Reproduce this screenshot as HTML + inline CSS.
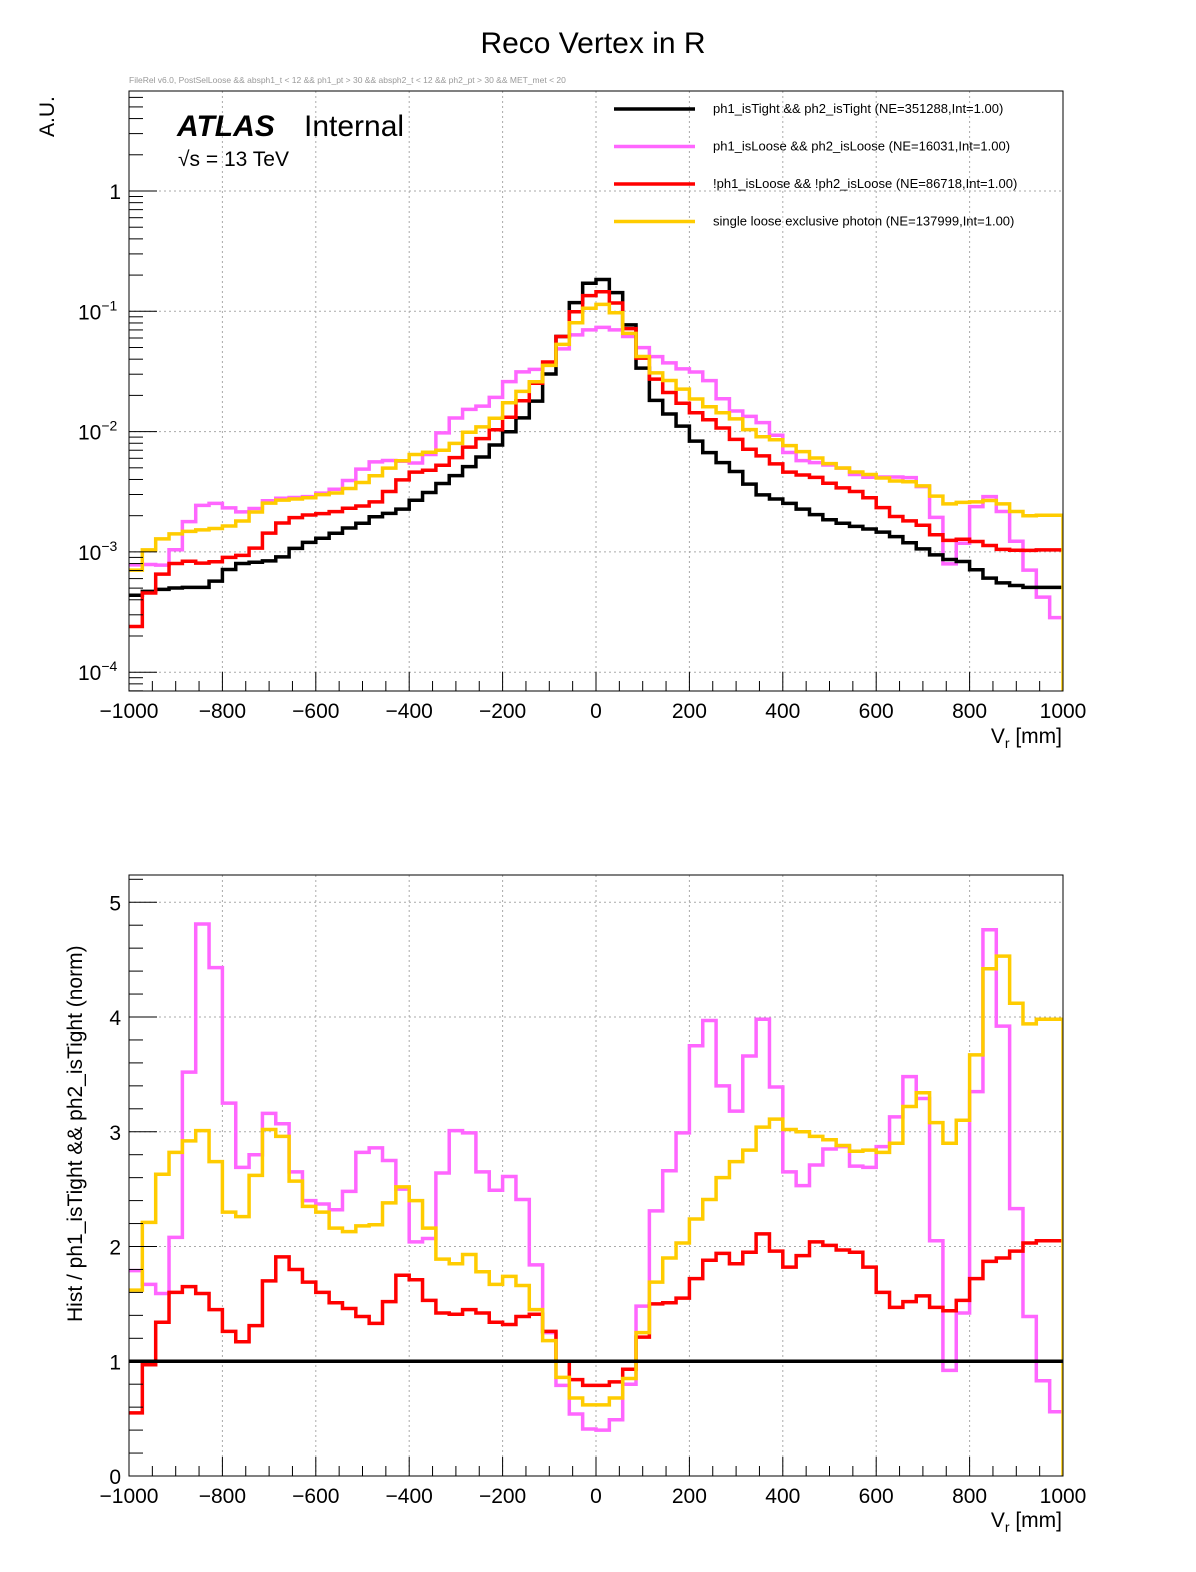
<!DOCTYPE html>
<html><head><meta charset="utf-8"><style>
html,body{margin:0;padding:0;background:#fff;overflow:hidden;width:1196px;height:1572px}
svg{display:block}
svg text{font-family:"Liberation Sans",sans-serif}
</style></head><body>
<svg id="chart" width="1196" height="1572" viewBox="0 0 1196 1572" xmlns="http://www.w3.org/2000/svg">
<defs>
<clipPath id="clipTop"><rect x="129" y="91" width="934" height="600"/></clipPath>
<clipPath id="clipBot"><rect x="129" y="875" width="934" height="601"/></clipPath>
</defs>
<rect width="1196" height="1572" fill="#fff"/>
<text x="593" y="53" font-size="30" text-anchor="middle">Reco Vertex in R</text>
<text x="129" y="83" font-size="8.5" fill="#999">FileRel v6.0, PostSelLoose &amp;&amp; absph1_t &lt; 12 &amp;&amp; ph1_pt &gt; 30 &amp;&amp; absph2_t &lt; 12 &amp;&amp; ph2_pt &gt; 30 &amp;&amp; MET_met &lt; 20</text>
<g id="gridTop"></g>
<g id="gridBot"></g>
<g id="seriesTop" clip-path="url(#clipTop)"></g>
<g id="seriesBot" clip-path="url(#clipBot)"></g>
<rect x="129" y="91" width="934" height="600" fill="none" stroke="#000" stroke-width="1"/>
<rect x="129" y="875" width="934" height="601" fill="none" stroke="#000" stroke-width="1"/>
<g id="axes"></g>
<text transform="translate(54,137) rotate(-90)" font-size="21">A.U.</text>
<text x="1062" y="743" font-size="21" text-anchor="end">V<tspan font-size="14" dy="5">r</tspan><tspan dy="-5"> [mm]</tspan></text>
<text x="1062" y="1527" font-size="21" text-anchor="end">V<tspan font-size="14" dy="5">r</tspan><tspan dy="-5"> [mm]</tspan></text>
<text transform="translate(82,1322) rotate(-90)" font-size="21">Hist / ph1_isTight &amp;&amp; ph2_isTight (norm)</text>
<text x="177" y="136" font-size="30" font-weight="bold" font-style="italic">ATLAS</text>
<text x="304" y="136" font-size="30">Internal</text>
<text x="178" y="166" font-size="21">√s = 13 TeV</text>
<g id="legend"></g>
</svg>
<script>
const binLo = -1000, binHi = 1000, nBins = 70;
const blackVals = [4.36e-4,4.70e-4,4.88e-4,5.01e-4,5.07e-4,5.07e-4,5.71e-4,7.14e-4,8.00e-4,8.20e-4,
8.43e-4,9.10e-4,1.07e-3,1.20e-3,1.30e-3,1.43e-3,1.58e-3,1.73e-3,1.96e-3,2.09e-3,
2.27e-3,2.69e-3,3.12e-3,3.70e-3,4.31e-3,5.12e-3,6.15e-3,7.73e-3,9.98e-3,1.30e-2,
1.79e-2,3.01e-2,6.17e-2,0.118,0.171,0.184,0.143,0.0771,0.0337,0.0182,
0.0140,0.0111,8.34e-3,6.68e-3,5.52e-3,4.66e-3,3.66e-3,2.98e-3,2.75e-3,2.53e-3,
2.27e-3,2.04e-3,1.85e-3,1.73e-3,1.63e-3,1.55e-3,1.46e-3,1.34e-3,1.19e-3,1.06e-3,
9.44e-4,8.65e-4,8.32e-4,7.10e-4,6.05e-4,5.53e-4,5.26e-4,5.07e-4,5.07e-4,5.07e-4];
const pinkRatio = [1.79,1.67,1.59,2.08,3.52,4.81,4.43,3.25,2.69,2.80,
3.16,3.07,2.65,2.40,2.37,2.32,2.48,2.82,2.86,2.75,
2.50,2.04,2.07,2.64,3.01,2.99,2.65,2.49,2.61,2.41,
1.84,1.25,0.79,0.54,0.41,0.40,0.49,0.80,1.48,2.31,
2.66,2.99,3.75,3.97,3.40,3.18,3.66,3.98,3.39,2.65,
2.53,2.71,2.85,2.87,2.70,2.69,2.87,3.13,3.48,3.29,
2.05,0.92,1.42,3.35,4.76,3.92,2.33,1.39,0.83,0.56];
const redRatio = [0.55,0.97,1.34,1.60,1.65,1.59,1.45,1.26,1.17,1.31,
1.70,1.91,1.80,1.69,1.60,1.51,1.46,1.39,1.33,1.52,
1.75,1.71,1.53,1.42,1.41,1.45,1.42,1.34,1.32,1.39,
1.41,1.26,1.00,0.84,0.79,0.79,0.82,0.93,1.21,1.50,
1.51,1.55,1.72,1.88,1.94,1.85,1.95,2.11,1.96,1.82,
1.92,2.04,2.01,1.97,1.95,1.82,1.60,1.47,1.52,1.57,
1.47,1.44,1.53,1.72,1.87,1.90,1.96,2.03,2.05,2.05];
const yellowRatio = [1.62,2.21,2.63,2.82,2.92,3.01,2.74,2.30,2.26,2.62,
3.02,2.96,2.57,2.35,2.30,2.16,2.13,2.18,2.19,2.38,
2.52,2.40,2.16,1.89,1.85,1.93,1.78,1.67,1.74,1.66,
1.45,1.18,0.86,0.68,0.62,0.62,0.68,0.85,1.25,1.69,
1.90,2.03,2.24,2.41,2.60,2.74,2.84,3.04,3.11,3.02,
3.00,2.96,2.93,2.88,2.83,2.84,2.82,2.90,3.22,3.34,
3.08,2.90,3.10,3.67,4.42,4.53,4.12,3.94,3.98,3.98];
const xTicks = [-1000,-800,-600,-400,-200,0,200,400,600,800,1000];
const xTickLabels = ["\u22121000","\u2212800","\u2212600","\u2212400","\u2212200","0","200","400","600","800","1000"];
const topDecades = [0,-1,-2,-3,-4];
const botTicks = [0,1,2,3,4,5];
const legendLabels = ["ph1_isTight && ph2_isTight (NE=351288,Int=1.00)","ph1_isLoose && ph2_isLoose (NE=16031,Int=1.00)","!ph1_isLoose && !ph2_isLoose (NE=86718,Int=1.00)","single loose exclusive photon (NE=137999,Int=1.00)"];

const NS = "http://www.w3.org/2000/svg";
const X0 = 129, X1 = 1063;
function xs(v){ return X0 + (v - binLo) / (binHi - binLo) * (X1 - X0); }
function yTop(v){ return 191 - 120.3 * Math.log10(v); }
function yBot(r){ return 1476 - 114.75 * r; }
function mk(tag, attrs, parent){ const e = document.createElementNS(NS, tag); for (const k in attrs) e.setAttribute(k, attrs[k]); parent.appendChild(e); return e; }
const bw = (binHi - binLo) / nBins;

function stepPath(vals, yf, drop, bottomY){
  let d = "";
  for (let i = 0; i < vals.length; i++){
    const x0 = xs(binLo + i*bw), x1 = xs(binLo + (i+1)*bw), y = yf(vals[i]);
    d += (i === 0 ? "M" + x0 + " " + y : " V" + y) + " H" + x1;
  }
  if (drop) d += " V" + bottomY;
  return d;
}

const gT = document.getElementById('gridTop'), gB = document.getElementById('gridBot');
xTicks.forEach(v => {
  if (v === binLo || v === binHi) return;
  const l1 = mk('line', {x1: xs(v), x2: xs(v), y1: 91, y2: 691, stroke: '#aaa', 'stroke-dasharray': '2,3'}, gT);
  
  
  const l2 = mk('line', {x1: xs(v), x2: xs(v), y1: 875, y2: 1476, stroke: '#aaa', 'stroke-dasharray': '2,3'}, gB);
  
  
});
topDecades.forEach(p => {
  const l = mk('line', {x1: X0, x2: X1, y1: yTop(Math.pow(10,p)), y2: yTop(Math.pow(10,p)), stroke: '#aaa', 'stroke-dasharray': '2,3'}, gT);
  
  
});
botTicks.forEach(r => {
  if (r === 0) return;
  const l = mk('line', {x1: X0, x2: X1, y1: yBot(r), y2: yBot(r), stroke: '#aaa', 'stroke-dasharray': '2,3'}, gB);
  
  
});

const colors = {black: '#000', pink: '#ff66ff', red: '#ff0000', yellow: '#ffcc00'};
const sT = document.getElementById('seriesTop'), sB = document.getElementById('seriesBot');
const pinkVals = blackVals.map((b,i) => b * pinkRatio[i]);
const redVals = blackVals.map((b,i) => b * redRatio[i]);
const yellowVals = blackVals.map((b,i) => b * yellowRatio[i]);
const topSeries = [['pink', pinkVals], ['black', blackVals], ['red', redVals], ['yellow', yellowVals]];
topSeries.forEach(([c, vals]) => {
  const p = mk('path', {d: stepPath(vals, yTop, c === 'yellow', 691), fill: 'none', stroke: colors[c], 'stroke-width': 3.5}, sT);
  
  
});
const ones = blackVals.map(() => 1);
const botSeries = [['pink', pinkRatio], ['red', redRatio], ['yellow', yellowRatio], ['black', ones]];
botSeries.forEach(([c, vals]) => {
  const p = mk('path', {d: stepPath(vals, yBot, c === 'yellow', 1476), fill: 'none', stroke: colors[c], 'stroke-width': 3.5}, sB);
  
  
});

const ax = document.getElementById('axes');
[[691, 'top'], [1476, 'bottom']].forEach(([yb, nm]) => {
  for (let v = binLo; v <= binHi; v += 50){
    const major = (v % 200 === 0);
    const t = mk('line', {x1: xs(v), x2: xs(v), y1: yb, y2: yb - (major ? 19 : 10), stroke: '#000'}, ax);
    
    
  }
  xTicks.forEach((v, i) => {
    const t = mk('text', {x: xs(v), y: yb + 27, 'font-size': 21, 'text-anchor': 'middle'}, ax);
    t.textContent = xTickLabels[i];
    
    
  });
});
for (let p = -5; p <= 0; p++){
  for (let m = 1; m <= 9; m++){
    const v = m * Math.pow(10, p), y = yTop(v);
    if (y < 91 || y > 691) continue;
    const t = mk('line', {x1: X0, x2: X0 + (m === 1 ? 28 : 14), y1: y, y2: y, stroke: '#000'}, ax);
    
    
  }
}
topDecades.forEach(p => {
  const y = yTop(Math.pow(10,p));
  const t = mk('text', {x: 121, y: y + 8, 'font-size': 21, 'text-anchor': 'end'}, ax);
  if (p === 0) { t.textContent = '1'; }
  else {
    t.setAttribute('x', 78);
    t.setAttribute('text-anchor', 'start');
    t.textContent = '10';
    const s = mk('tspan', {'font-size': 14, dy: -9}, t);
    s.textContent = '\u2212' + (-p);
  }
  
  
});
for (let k = 0; k <= 26; k++){
  const r = k * 0.2, y = yBot(r);
  if (y < 875) continue;
  const major = (k % 5 === 0);
  const t = mk('line', {x1: X0, x2: X0 + (major ? 28 : 14), y1: y, y2: y, stroke: '#000'}, ax);
  
  
}
botTicks.forEach(r => {
  const t = mk('text', {x: 121, y: yBot(r) + 8, 'font-size': 21, 'text-anchor': 'end'}, ax);
  t.textContent = String(r);
  
  
});

const lg = document.getElementById('legend');
const legColors = ['black', 'pink', 'red', 'yellow'];
legendLabels.forEach((lab, i) => {
  const y = 109 + i * 37.5;
  const l = mk('line', {x1: 614, x2: 695, y1: y, y2: y, stroke: colors[legColors[i]], 'stroke-width': 3.5}, lg);
  
  
  const t = mk('text', {x: 713, y: y + 4, 'font-size': 13}, lg);
  t.textContent = lab;
  
  
});
</script>
</body></html>
